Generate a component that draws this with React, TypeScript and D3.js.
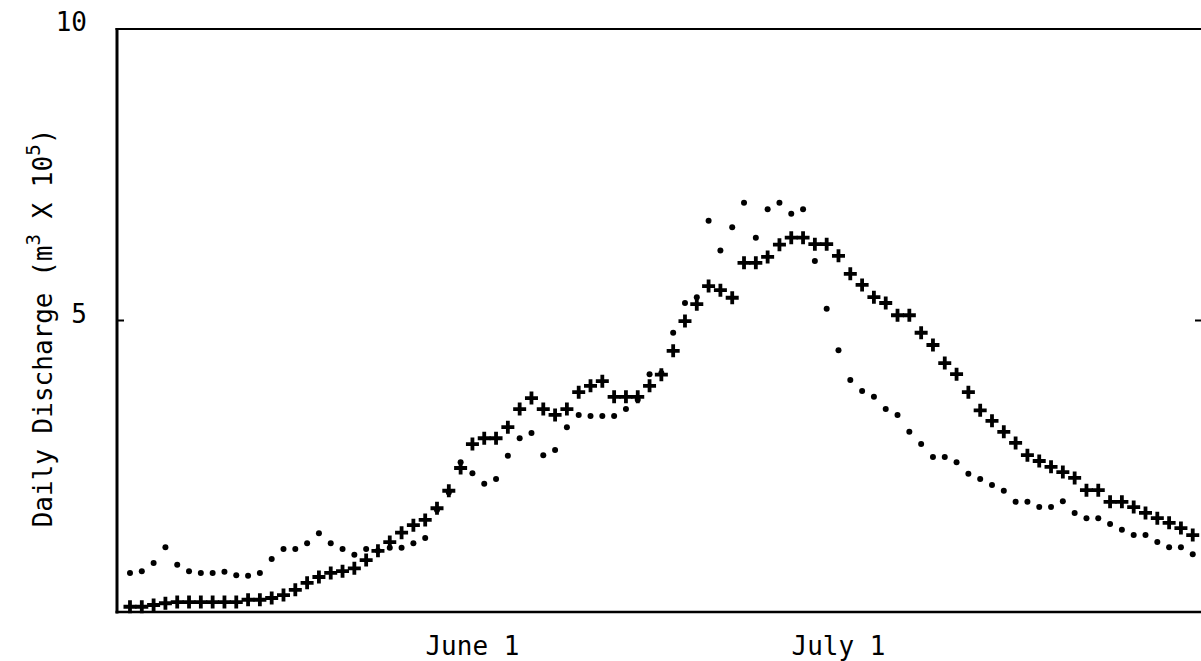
import React from "react";
import * as d3 from "d3";

// Day index 0 = May 3 ... 90 = Aug 1 (hand-drawn chart; labels placed as on original)
const days: number[] = d3.range(91);

// Series plotted with "+" markers (daily discharge, m^3 x 10^5)
const plusValues: number[] = [
  0.09, 0.09, 0.12, 0.15, 0.17, 0.17, 0.17, 0.17, 0.17, 0.17,
  0.21, 0.21, 0.24, 0.29, 0.38, 0.50, 0.60, 0.67, 0.70, 0.75,
  0.89, 1.05, 1.20, 1.36, 1.49, 1.58, 1.78, 2.08, 2.47, 2.88,
  2.98, 2.98, 3.17, 3.48, 3.67, 3.48, 3.38, 3.48, 3.77, 3.88,
  3.96, 3.69, 3.69, 3.69, 3.88, 4.07, 4.48, 4.99, 5.28, 5.59,
  5.52, 5.39, 5.99, 5.99, 6.09, 6.30, 6.42, 6.42, 6.31, 6.31,
  6.11, 5.80, 5.61, 5.40, 5.30, 5.09, 5.09, 4.79, 4.58, 4.27,
  4.08, 3.77, 3.46, 3.28, 3.09, 2.90, 2.69, 2.59, 2.49, 2.40,
  2.30, 2.09, 2.09, 1.89, 1.89, 1.80, 1.70, 1.61, 1.53, 1.44,
  1.32,
];

// Series plotted with dot markers
const dotValues: number[] = [
  0.67, 0.70, 0.84, 1.11, 0.81, 0.70, 0.67, 0.67, 0.69, 0.63,
  0.62, 0.67, 0.91, 1.08, 1.08, 1.18, 1.35, 1.18, 1.08, 0.98,
  1.08, 1.05, 1.10, 1.10, 1.18, 1.27, 1.75, 2.05, 2.57, 2.38,
  2.20, 2.28, 2.68, 2.98, 3.07, 2.69, 2.78, 3.17, 3.38, 3.36,
  3.36, 3.36, 3.48, 3.64, 4.08, 4.10, 4.79, 5.30, 5.40, 6.71,
  6.20, 6.60, 7.02, 6.42, 6.91, 7.02, 6.83, 6.91, 6.02, 5.20,
  4.49, 3.98, 3.79, 3.69, 3.48, 3.38, 3.09, 2.88, 2.66, 2.66,
  2.57, 2.37, 2.28, 2.18, 2.08, 1.89, 1.89, 1.80, 1.80, 1.90,
  1.70, 1.61, 1.61, 1.51, 1.41, 1.32, 1.32, 1.20, 1.11, 1.11,
  0.99,
];

const yTickValues: number[] = [5, 10];
const yTickLabels: string[] = ["5", "10"];
const xTickDays: number[] = [29, 60];
const xTickLabels: string[] = ["June 1", "July 1"];

const W = 1201;
const H = 661;
const LEFT = 117;
const RIGHT = 1201;
const TOP = 29;
const BOTTOM = 612;
const FONT = "'DejaVu Sans Mono', 'Liberation Mono', monospace";

export default function App() {
  const x = d3.scaleLinear().domain([-1.1, 90.7]).range([LEFT, RIGHT]);
  const y = d3.scaleLinear().domain([0, 10]).range([BOTTOM, TOP]);

  const plusPath = "M-6.5,0H6.5M0,-6.5V6.5";

  return (
    <div style={{ position: "absolute", left: 0, top: 0 }}>
      <svg width={W} height={H} style={{ display: "block", background: "#fff" }}>
        <rect x={0} y={0} width={W} height={H} fill="#fff" />
        {/* frame */}
        <line x1={LEFT} y1={TOP - 1} x2={LEFT} y2={BOTTOM + 1.5} stroke="#000" strokeWidth={3} />
        <line x1={LEFT - 1.5} y1={TOP} x2={RIGHT + 5} y2={TOP} stroke="#000" strokeWidth={2.2} />
        <line x1={LEFT - 1.5} y1={BOTTOM} x2={RIGHT + 5} y2={BOTTOM} stroke="#000" strokeWidth={2.6} />
        <line x1={RIGHT + 2} y1={TOP} x2={RIGHT + 2} y2={BOTTOM} stroke="#000" strokeWidth={3} />

        {/* y ticks */}
        {yTickValues.map((v, i) => (
          <g key={"yt" + i}>
            {v < 10 && (
              <>
                <line x1={LEFT} x2={LEFT + 7} y1={y(v)} y2={y(v)} stroke="#000" strokeWidth={2} />
                <line x1={RIGHT - 6} x2={RIGHT} y1={y(v)} y2={y(v)} stroke="#000" strokeWidth={2} />
              </>
            )}
            <text
              x={87}
              y={y(v) + 2}
              textAnchor="end"
              fontFamily={FONT}
              fontSize={26}
              fill="#000"
            >
              {yTickLabels[i]}
            </text>
          </g>
        ))}

        {/* x tick labels */}
        {xTickDays.map((d, i) => (
          <text
            key={"xt" + i}
            x={x(d)}
            y={655}
            textAnchor="middle"
            fontFamily={FONT}
            fontSize={26}
            fill="#000"
          >
            {xTickLabels[i]}
          </text>
        ))}

        {/* y axis title */}
        <text
          transform={`translate(52,328) rotate(-90)`}
          textAnchor="middle"
          fontFamily={FONT}
          fontSize={26}
          fill="#000"
        >
          Daily Discharge (m
          <tspan dy={-12} fontSize={19}>3</tspan>
          <tspan dy={12}> X 10</tspan>
          <tspan dy={-12} fontSize={19}>5</tspan>
          <tspan dy={12}>)</tspan>
        </text>

        {/* dots */}
        {days.map((d, i) => (
          <circle key={"d" + i} cx={x(d)} cy={y(dotValues[i])} r={3} fill="#000" />
        ))}

        {/* plus markers */}
        {days.map((d, i) => (
          <path
            key={"p" + i}
            d={plusPath}
            transform={`translate(${x(d)},${y(plusValues[i])})`}
            stroke="#000"
            strokeWidth={3.8}
            fill="none"
          />
        ))}
      </svg>
    </div>
  );
}
